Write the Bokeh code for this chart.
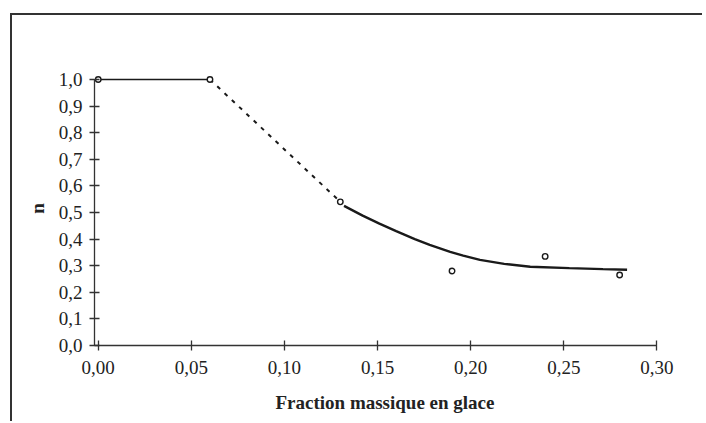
from bokeh.plotting import figure
from bokeh.models import Range1d, FixedTicker, CustomJSTickFormatter
from bokeh.embed import file_html
from bokeh.resources import INLINE

# Data
x_pts = [0.00, 0.06, 0.13, 0.19, 0.24, 0.28]
y_pts = [1.00, 1.00, 0.54, 0.28, 0.335, 0.265]

plateau_x = [0.00, 0.06]
plateau_y = [1.00, 1.00]

dash_x = [0.06, 0.13]
dash_y = [1.00, 0.54]

curve_x = [0.132, 0.142, 0.151, 0.160, 0.170, 0.178, 0.189, 0.196, 0.205, 0.218, 0.232, 0.253, 0.271, 0.284]
curve_y = [0.525, 0.488, 0.458, 0.430, 0.400, 0.378, 0.352, 0.338, 0.322, 0.307, 0.296, 0.291, 0.287, 0.285]

x_ticks = [0.00, 0.05, 0.10, 0.15, 0.20, 0.25, 0.30]
y_ticks = [0.0, 0.1, 0.2, 0.3, 0.4, 0.5, 0.6, 0.7, 0.8, 0.9, 1.0]

FONT = "Liberation Serif"
INK = "#222222"

p = figure(width=692, height=408, output_backend="svg", toolbar_location=None,
           x_range=Range1d(-0.002, 0.31), y_range=Range1d(0, 1.03),
           min_border_left=82, min_border_right=29, min_border_top=56, min_border_bottom=78)

# outer chart frame (left and top edges visible, as in the scan)
p.styles = {"margin-left": "10px", "margin-top": "13px",
            "border-left": "2px solid #333333", "border-top": "2px solid #333333"}

p.outline_line_color = None
p.xgrid.visible = False
p.ygrid.visible = False
p.background_fill_color = "white"
p.border_fill_color = "white"

p.line(plateau_x, plateau_y, line_color="#1a1a1a", line_width=1.6)
p.line(dash_x, dash_y, line_color="#1a1a1a", line_width=2, line_dash="4 6")
p.line(curve_x, curve_y, line_color="#1a1a1a", line_width=2.4)
p.scatter(x_pts, y_pts, marker="circle", size=5.5, fill_color="white",
          line_color="#1a1a1a", line_width=1.4)

for ax in (p.xaxis[0], p.yaxis[0]):
    ax.axis_line_color = "#333333"
    ax.axis_line_width = 1.3
    ax.major_tick_line_color = "#333333"
    ax.major_tick_line_width = 1.3
    ax.major_tick_in = 5
    ax.major_tick_out = 5
    ax.minor_tick_line_color = None
    ax.major_label_text_font = FONT
    ax.major_label_text_font_size = "19px"
    ax.major_label_text_color = INK
    ax.axis_label_text_font = FONT
    ax.axis_label_text_font_size = "19px"
    ax.axis_label_text_font_style = "bold"
    ax.axis_label_text_color = INK

p.xaxis.ticker = FixedTicker(ticks=x_ticks)
p.yaxis.ticker = FixedTicker(ticks=y_ticks)
p.xaxis.bounds = (-0.002, 0.30)
p.yaxis.bounds = (0, 1.0)
p.xaxis.formatter = CustomJSTickFormatter(code="return tick.toFixed(2).replace('.', ',');")
p.yaxis.formatter = CustomJSTickFormatter(code="return tick.toFixed(1).replace('.', ',');")
p.xaxis.major_label_standoff = 10
p.yaxis.major_label_standoff = 7
p.xaxis.axis_label = "Fraction massique en glace"
p.yaxis.axis_label = "n"
p.xaxis.axis_label_standoff = 15
p.yaxis.axis_label_standoff = 8

open("out.html", "w").write(file_html(p, INLINE))
